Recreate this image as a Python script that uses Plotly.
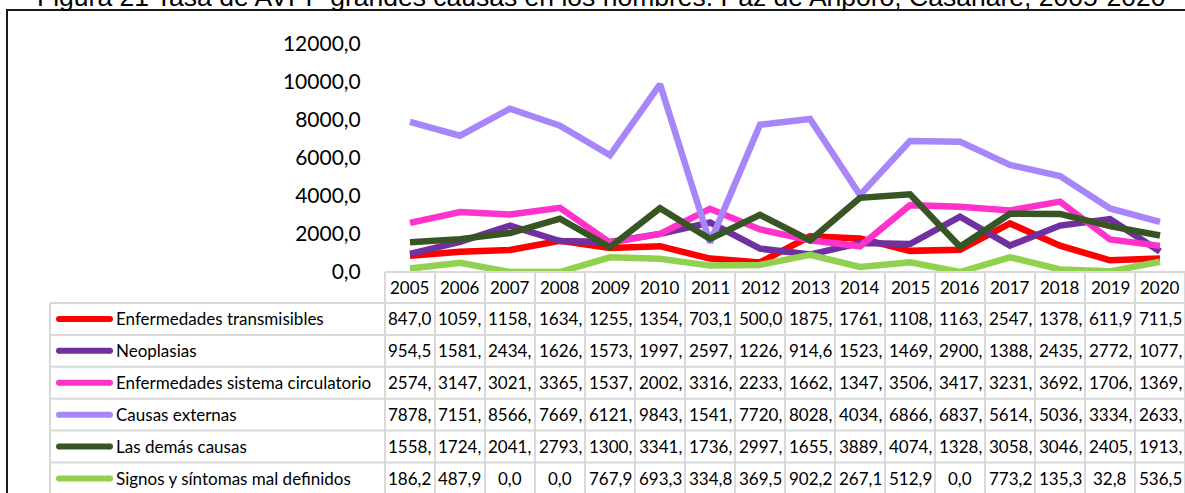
import plotly.graph_objects as go

# ---------------- data ----------------
years = [2005, 2006, 2007, 2008, 2009, 2010, 2011, 2012, 2013, 2014, 2015, 2016, 2017, 2018, 2019, 2020]

series_names = [
    "Enfermedades transmisibles",
    "Neoplasias",
    "Enfermedades sistema circulatorio",
    "Causas externas",
    "Las demás causas",
    "Signos y síntomas mal definidos",
]

transmisibles = [847.0, 1059, 1158, 1634, 1255, 1354, 703.1, 500.0, 1875, 1761, 1108, 1163, 2547, 1378, 611.9, 711.5]
neoplasias = [954.5, 1581, 2434, 1626, 1573, 1997, 2597, 1226, 914.6, 1523, 1469, 2900, 1388, 2435, 2772, 1077]
circulatorio = [2574, 3147, 3021, 3365, 1537, 2002, 3316, 2233, 1662, 1347, 3506, 3417, 3231, 3692, 1706, 1369]
externas = [7878, 7151, 8566, 7669, 6121, 9843, 1541, 7720, 8028, 4034, 6866, 6837, 5614, 5036, 3334, 2633]
demas = [1558, 1724, 2041, 2793, 1300, 3341, 1736, 2997, 1655, 3889, 4074, 1328, 3058, 3046, 2405, 1913]
signos = [186.2, 487.9, 0.0, 0.0, 767.9, 693.3, 334.8, 369.5, 902.2, 267.1, 512.9, 0.0, 773.2, 135.3, 32.8, 536.5]

series_values = [transmisibles, neoplasias, circulatorio, externas, demas, signos]
series_colors = ["#FF0000", "#7030A0", "#FF33CC", "#A886FA", "#375623", "#92D050"]

y_ticks = [0, 2000, 4000, 6000, 8000, 10000, 12000]

title_text = "Figura 21 Tasa de AVPP grandes causas en los hombres. Paz de Ariporo, Casanare, 2005-2020"

# ---------------- layout constants (pixels) ----------------
W, H = 1185, 493
plot_left, plot_right = 385, 1185
plot_bottom, plot_top = 272, 43.2
table_left = 50
header_top, header_bottom = 272, 303
row_h = 31.9
grid_col = "#D9D9D9"
FONT = "Lato"
TFS = 17


def px(x):
    return x / W


def py(y):
    return 1 - y / H


def cell_label(v):
    s = f"{v:.1f}".replace(".", ",")
    return s[:5]


fig = go.Figure()
for name, vals, col in zip(series_names, series_values, series_colors):
    fig.add_trace(go.Scatter(
        x=years, y=vals, mode="lines", name=name,
        line=dict(color=col, width=6.5),
        showlegend=False, hoverinfo="skip",
    ))

shapes = []
annotations = []

# outer border
shapes.append(dict(type="rect", xref="paper", yref="paper",
                   x0=px(7), x1=px(1195), y0=py(10), y1=py(505),
                   line=dict(color="#1a1a1a", width=2), fillcolor="rgba(0,0,0,0)"))

# title (partly cut off at top, as in the reference)
annotations.append(dict(text=title_text, xref="paper", yref="paper",
                        x=px(601), y=py(-3), xanchor="center", yanchor="middle",
                        showarrow=False,
                        font=dict(family="Liberation Sans, Arial", size=26.5, color="#000000")))

# table grid
n_rows = len(series_names)
row_tops = [header_bottom + i * row_h for i in range(n_rows + 1)]
shapes.append(dict(type="line", xref="paper", yref="paper",
                   x0=px(plot_left), x1=px(plot_right), y0=py(header_top), y1=py(header_top),
                   line=dict(color=grid_col, width=2)))
for yt in row_tops:
    shapes.append(dict(type="line", xref="paper", yref="paper",
                       x0=px(table_left), x1=px(plot_right), y0=py(yt), y1=py(yt),
                       line=dict(color=grid_col, width=2)))
shapes.append(dict(type="line", xref="paper", yref="paper",
                   x0=px(table_left), x1=px(table_left), y0=py(header_bottom), y1=py(H + 5),
                   line=dict(color=grid_col, width=2)))
col_w = (plot_right - plot_left) / len(years)
for k in range(len(years) + 1):
    xx = plot_left + k * col_w
    shapes.append(dict(type="line", xref="paper", yref="paper",
                       x0=px(xx), x1=px(xx), y0=py(header_top), y1=py(H + 5),
                       line=dict(color=grid_col, width=2)))

# header years
for yr in years:
    annotations.append(dict(text=str(yr), xref="x", yref="paper", x=yr,
                            y=py((header_top + header_bottom) / 2), showarrow=False,
                            xanchor="center", yanchor="middle",
                            font=dict(family=FONT, size=TFS, color="#000000")))

# rows
for i, (name, vals, col) in enumerate(zip(series_names, series_values, series_colors)):
    yc = header_bottom + (i + 0.5) * row_h
    # legend sample
    shapes.append(dict(type="line", xref="paper", yref="paper",
                       x0=px(59), x1=px(110), y0=py(yc), y1=py(yc),
                       line=dict(color=col, width=6)))
    for cx in (59, 110):
        shapes.append(dict(type="circle", xref="paper", yref="paper",
                           x0=px(cx - 3), x1=px(cx + 3), y0=py(yc + 3), y1=py(yc - 3),
                           line=dict(width=0), fillcolor=col))
    annotations.append(dict(text=name, xref="paper", yref="paper", x=px(114), y=py(yc),
                            xanchor="left", yanchor="middle", showarrow=False,
                            font=dict(family=FONT, size=TFS, color="#000000")))
    for yr, v in zip(years, vals):
        annotations.append(dict(text=cell_label(v), xref="x", yref="paper", x=yr, y=py(yc),
                                xanchor="center", yanchor="middle", showarrow=False,
                                font=dict(family=FONT, size=TFS, color="#000000")))

fig.update_layout(
    width=W, height=H, autosize=False,
    margin=dict(l=0, r=0, t=0, b=0, autoexpand=False),
    paper_bgcolor="white", plot_bgcolor="white",
    separators=",.",
    hovermode=False,
    shapes=shapes, annotations=annotations,
    xaxis=dict(domain=[px(plot_left), px(plot_right)], range=[years[0] - 0.5, years[-1] + 0.5],
               showticklabels=False, showgrid=False, zeroline=False, showline=False, ticks="",
               automargin=False),
    yaxis=dict(domain=[py(plot_bottom), py(plot_top)], range=[0, 12000],
               tickvals=y_ticks, tickformat=".1f", showgrid=False, zeroline=False, showline=False,
               ticks="outside", ticklen=19, tickcolor="rgba(0,0,0,0)", automargin=False,
               tickfont=dict(family=FONT, size=21, color="#000000")),
)

fig.write_html("out.html",
               config={"displayModeBar": False, "staticPlot": True},
               post_script="document.body.style.margin='0';document.body.style.overflow='hidden';")
